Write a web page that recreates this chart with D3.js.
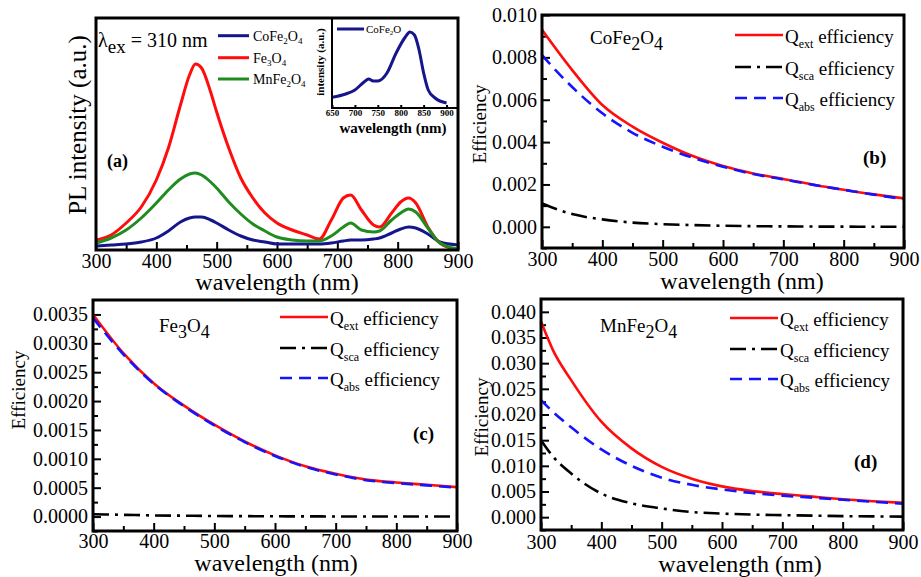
<!DOCTYPE html>
<html><head><meta charset="utf-8">
<script src="https://cdn.jsdelivr.net/npm/d3@7/dist/d3.min.js"></script>
<style>
body{margin:0;background:#fff}svg{display:block}
svg text{font-family:"Liberation Serif","Times New Roman","DejaVu Serif",serif !important;}
</style>
</head><body>
<svg id="c" width="921" height="577"></svg>
<script>
// ---------- DATA ----------
// (a) PL spectra
const plWavelength = [300,325,350,375,400,420,440,455,465,475,490,500,520,540,560,580,600,625,650,670,690,710,722,740,760,770,790,805,818,830,850,870,900];
const plFe3O4   = [10,15,27,43,70,102,145,175,186,182,158,138,102,72,52,37,27,20,15,11,30,52,55,40,25,23,37,48,52,47,23,7,0];
const plMnFe2O4 = [7,12,20,32,47,60,71,76,77,75,68,62,48,36,26,19,13,10,9,9,14,23,27,20,18,19,30,37,41,38,22,7,1];
const plCoFe2O4 = [4,5,6,8,12,19,28,32,33,33,30,27,20,14,10,8,6,6,6,6,7,9,10,10,11,12,17,21,23,22,16,8,5];
// inset
const insetWavelength = [650,680,700,720,730,740,750,770,790,810,820,830,840,850,860,875,900];
const insetCoFe2O4 = [10.7,14,18,26,29,27,27,35,55,71,76,73,58,35,18,10,5];
const xTicks = [300,400,500,600,700,800,900];
const xMinor = [350,450,550,650,750,850];
const insetTicks = [650,700,750,800,850,900];

// (b) CoFe2O4 efficiencies
const wlB = [300,350,400,450,500,550,600,650,700,750,800,850,900];
const coQext = [0.0093,0.0074,0.00575,0.00473,0.00397,0.00334,0.00287,0.00252,0.00226,0.00199,0.00175,0.00153,0.00134];
const coQsca = [0.0011,0.0006,0.00035,0.0002,0.000126,0.00008,0.00005,0.00003,0.00002,0.000012,0.000008,0.000005,0.000003];
const coQabs = [0.0081,0.0066,0.00536,0.00444,0.00378,0.00326,0.00284,0.00249,0.00224,0.00198,0.00175,0.00152,0.00131];
const yTicksB = [0,0.002,0.004,0.006,0.008,0.010];
const yMinorB = [-0.001,0.001,0.003,0.005,0.007,0.009];

// (c) Fe3O4 efficiencies
const wlC = [300,350,400,450,500,550,600,650,700,750,800,850,900];
const feQext = [0.0035,0.00283,0.00231,0.00192,0.00159,0.0013,0.00106,0.00087,0.00074,0.00064,0.00059,0.00055,0.00051];
const feQsca = [0.00004,0.00003,0.00002,0.000015,0.00001,0.000007,0.000005,0.000003,0.000002,0.000001,0.000001,0,0];
const feQabs = [0.00344,0.00281,0.0023,0.00191,0.00158,0.00129,0.00105,0.00086,0.00073,0.00063,0.00058,0.00054,0.0005];
const yTicksC = [0,0.0005,0.001,0.0015,0.002,0.0025,0.003,0.0035];
const yMinorC = [-0.00025,0.00025,0.00075,0.00125,0.00175,0.00225,0.00275,0.00325];

// (d) MnFe2O4 efficiencies
const wlD = [300,320,350,400,450,500,550,600,650,700,750,800,850,900];
const mnQext = [0.0381,0.0325,0.0267,0.0186,0.0134,0.0098,0.0075,0.0060,0.0051,0.0045,0.0040,0.0035,0.0031,0.0028];
const mnQsca = [0.0150,0.0118,0.0085,0.0046,0.0027,0.0017,0.0010,0.0007,0.0005,0.0004,0.0003,0.0002,0.00015,0.0001];
const mnQabs = [0.0228,0.0205,0.0175,0.0132,0.0100,0.0077,0.0063,0.0054,0.0047,0.0042,0.0038,0.0034,0.0030,0.0026];
const yTicksD = [0,0.005,0.010,0.015,0.020,0.025,0.030,0.035,0.040];
const yMinorD = [-0.0025,0.0025,0.0075,0.0125,0.0175,0.0225,0.0275,0.0325,0.0375];

// ---------- DRAWING ----------
const FONT = "Liberation Serif";
const RED = "#ff0d0d", BLUE = "#1414ff", NAVY = "#15158c", GREEN = "#1e8c1e";
const svg = d3.select("#c");
const defs = svg.append("defs");
let clipN = 0;

function rich(parent, x, y, parts, size, subSize, subDy, weight) {
  const t = parent.append("text").attr("x", x).attr("y", y)
    .attr("font-family", FONT).attr("font-size", size).attr("fill", "#000")
    .attr("font-weight", weight || "normal");
  let cur = 0;
  parts.forEach(([s, isSub]) => {
    const target = isSub ? subDy : 0;
    t.append("tspan").attr("dy", target - cur).attr("font-size", isSub ? subSize : size).text(s);
    cur = target;
  });
  return t;
}

function styleAxis(s, size, weight) {
  s.select(".domain").remove();
  s.attr("font-family", FONT).attr("font-size", size).attr("font-weight", weight || "normal");
  s.selectAll("text").attr("fill", "#000");
  s.selectAll("line").attr("stroke", "#000").attr("stroke-width", 2);
}
function minorAxis(s) {
  s.select(".domain").remove();
  s.selectAll("text").remove();
  s.selectAll("line").attr("stroke", "#000").attr("stroke-width", 2);
}

function makePanel(cfg) {
  const g = svg.append("g");
  const x = d3.scaleLinear().domain(cfg.xDomain || [300, 900]).range([cfg.x0, cfg.x1]);
  const y = d3.scaleLinear().domain(cfg.yDomain).range([cfg.y1, cfg.y0]);
  const id = "clip" + (clipN++);
  defs.append("clipPath").attr("id", id).append("rect")
    .attr("x", cfg.x0).attr("y", cfg.y0).attr("width", cfg.x1 - cfg.x0).attr("height", cfg.y1 - cfg.y0);
  g.append("g").attr("transform", `translate(0,${cfg.y1})`)
    .call(d3.axisBottom(x).tickValues(cfg.xTicks || xTicks).tickSize(-(cfg.tickLen || 8)).tickPadding(cfg.xPad).tickFormat(d3.format("d")))
    .call(s => styleAxis(s, cfg.tickFont || 20, cfg.tickWeight));
  if (cfg.xMinor !== null) {
    g.append("g").attr("transform", `translate(0,${cfg.y1})`)
      .call(d3.axisBottom(x).tickValues(cfg.xMinor || xMinor).tickSize(-5).tickFormat(""))
      .call(minorAxis);
  }
  if (cfg.yTicks) {
    g.append("g").attr("transform", `translate(${cfg.x0},0)`)
      .call(d3.axisLeft(y).tickValues(cfg.yTicks).tickSize(-8).tickPadding(5).tickFormat(d3.format(cfg.yFmt)))
      .call(s => styleAxis(s, 20));
    g.append("g").attr("transform", `translate(${cfg.x0},0)`)
      .call(d3.axisLeft(y).tickValues(cfg.yMinor).tickSize(-5).tickFormat(""))
      .call(minorAxis);
  }
  const curves = g.append("g").attr("clip-path", `url(#${id})`);
  cfg.series.forEach(sr => {
    const line = d3.line().x(d => x(d[0])).y(d => y(d[1])).curve(d3.curveMonotoneX);
    curves.append("path").datum(d3.zip(sr.wl, sr.v)).attr("d", line)
      .attr("fill", "none").attr("stroke", sr.color).attr("stroke-width", sr.w || 2.6)
      .attr("stroke-dasharray", sr.dash || null).attr("stroke-linecap", "butt");
  });
  g.append("rect").attr("x", cfg.x0).attr("y", cfg.y0).attr("width", cfg.x1 - cfg.x0).attr("height", cfg.y1 - cfg.y0)
    .attr("fill", "none").attr("stroke", "#000").attr("stroke-width", cfg.frameW || 3);
  return { g, x, y };
}

function xTitle(cx, by, size, weight) {
  svg.append("text").attr("x", cx).attr("y", by).attr("text-anchor", "middle")
    .attr("font-family", FONT).attr("font-size", size || 25).attr("font-weight", weight || "normal").text("wavelength (nm)");
}
function yTitle(bx, cy, txt, size, weight) {
  svg.append("text").attr("transform", `translate(${bx},${cy}) rotate(-90)`).attr("text-anchor", "middle")
    .attr("font-family", FONT).attr("font-size", size).attr("font-weight", weight || "normal").text(txt);
}

const DASHDOT = "16,6,3,6", DASH = "12,7";

function qLegend(x0, x1, ys) {
  const items = [["ext", RED, null], ["sca", "#000", DASHDOT], ["abs", BLUE, DASH]];
  items.forEach(([sub, col, dash], i) => {
    svg.append("line").attr("x1", x0).attr("x2", x1).attr("y1", ys[i]).attr("y2", ys[i])
      .attr("stroke", col).attr("stroke-width", 2.6).attr("stroke-dasharray", dash);
    rich(svg, x1 + 2, ys[i] + 8, [["Q", false], [sub, true], [" efficiency", false]], 19, 12, 5);
  });
}

// ----- Panel (a) -----
makePanel({
  x0: 96, x1: 458, y0: 18, y1: 250, yDomain: [0, 232], xPad: 4, tickFont: 20,
  series: [
    { wl: plWavelength, v: plCoFe2O4, color: NAVY, w: 3 },
    { wl: plWavelength, v: plFe3O4, color: RED, w: 3 },
    { wl: plWavelength, v: plMnFe2O4, color: GREEN, w: 3 }
  ]
});
xTitle(277, 290, 24);
yTitle(86, 125, "PL intensity (a.u.)", 25);
rich(svg, 98, 47, [["λ", false], ["ex", true], [" = 310 nm", false]], 20, 19, 6);
svg.append("text").attr("x", 107).attr("y", 167).attr("font-family", FONT).attr("font-size", 18)
  .attr("font-weight", "bold").text("(a)");
[["CoFe", "2", "O", "4", NAVY], ["Fe", "3", "O", "4", RED], ["MnFe", "2", "O", "4", GREEN]].forEach((it, i) => {
  const yy = [35.7, 57.7, 79][i];
  svg.append("line").attr("x1", 218).attr("x2", 249).attr("y1", yy).attr("y2", yy)
    .attr("stroke", it[4]).attr("stroke-width", 3);
  rich(svg, 253, yy + 5, [[it[0], false], [it[1], true], [it[2], false], [it[3], true]], 14, 9, 3);
});

// inset
makePanel({
  x0: 332, x1: 458, y0: 18, y1: 108, xDomain: [650, 925], yDomain: [0, 90], xPad: 2,
  xTicks: insetTicks, xMinor: null, tickFont: 9, tickWeight: "bold", tickLen: 3, frameW: 2,
  series: [{ wl: insetWavelength, v: insetCoFe2O4, color: NAVY, w: 3 }]
});
xTitle(393, 133, 15, "bold");
yTitle(324, 62, "intensity (a.u.)", 11, "bold");
svg.append("line").attr("x1", 337).attr("x2", 364).attr("y1", 29).attr("y2", 29).attr("stroke", NAVY).attr("stroke-width", 3);
rich(svg, 366, 33, [["CoFe", false], ["2", true], ["O", false]], 11, 7, 2);

// ----- Panel (b) -----
makePanel({
  x0: 542, x1: 904, y0: 15, y1: 248, yDomain: [-0.001, 0.010], xPad: 4,
  yTicks: yTicksB, yMinor: yMinorB, yFmt: ".3f",
  series: [
    { wl: wlB, v: coQext, color: RED },
    { wl: wlB, v: coQsca, color: "#000", dash: DASHDOT },
    { wl: wlB, v: coQabs, color: BLUE, dash: DASH }
  ]
});
xTitle(742, 289, 24);
yTitle(486, 124, "Efficiency", 19);
rich(svg, 590, 44, [["CoFe", false], ["2", true], ["O", false], ["4", true]], 19, 18, 6);
svg.append("text").attr("x", 863).attr("y", 164).attr("font-family", FONT).attr("font-size", 19).attr("font-weight", "bold").text("(b)");
qLegend(735, 783, [35, 67, 98]);

// ----- Panel (c) -----
makePanel({
  x0: 93, x1: 457, y0: 300, y1: 531, yDomain: [-0.00025, 0.00375], xPad: 3,
  yTicks: yTicksC, yMinor: yMinorC, yFmt: ".4f",
  series: [
    { wl: wlC, v: feQext, color: RED },
    { wl: wlC, v: feQsca, color: "#000", dash: DASHDOT },
    { wl: wlC, v: feQabs, color: BLUE, dash: DASH }
  ]
});
xTitle(276, 571, 24);
yTitle(25, 390, "Efficiency", 19);
rich(svg, 159, 332, [["Fe", false], ["3", true], ["O", false], ["4", true]], 19, 18, 6);
svg.append("text").attr("x", 413).attr("y", 440).attr("font-family", FONT).attr("font-size", 19).attr("font-weight", "bold").text("(c)");
qLegend(280, 328, [317, 348, 378]);

// ----- Panel (d) -----
makePanel({
  x0: 541, x1: 903, y0: 299, y1: 530, yDomain: [-0.0025, 0.0425], xPad: 5,
  yTicks: yTicksD, yMinor: yMinorD, yFmt: ".3f",
  series: [
    { wl: wlD, v: mnQext, color: RED },
    { wl: wlD, v: mnQsca, color: "#000", dash: DASHDOT },
    { wl: wlD, v: mnQabs, color: BLUE, dash: DASH }
  ]
});
xTitle(740, 572, 24);
yTitle(488, 417, "Efficiency", 19);
rich(svg, 600, 332, [["MnFe", false], ["2", true], ["O", false], ["4", true]], 19, 18, 6);
svg.append("text").attr("x", 854).attr("y", 468).attr("font-family", FONT).attr("font-size", 19).attr("font-weight", "bold").text("(d)");
qLegend(730, 778, [318, 349, 379]);
</script>
</body></html>
